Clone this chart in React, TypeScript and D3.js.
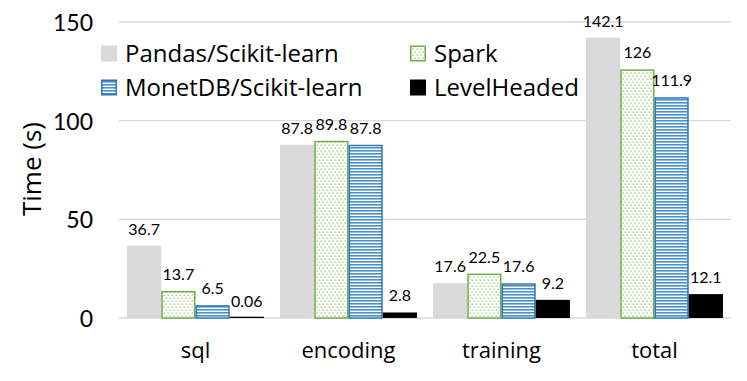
import React from "react";
import * as d3 from "d3";

const categories = ["sql", "encoding", "training", "total"];
const seriesNames = ["Pandas/Scikit-learn", "Spark", "MonetDB/Scikit-learn", "LevelHeaded"];
const pandasValues = [36.7, 87.8, 17.6, 142.1];
const sparkValues = [13.7, 89.8, 22.5, 126];
const monetValues = [6.5, 87.8, 17.6, 111.9];
const levelValues = [0.06, 2.8, 9.2, 12.1];
const valueLabels = [
  ["36.7", "87.8", "17.6", "142.1"],
  ["13.7", "89.8", "22.5", "126"],
  ["6.5", "87.8", "17.6", "111.9"],
  ["0.06", "2.8", "9.2", "12.1"],
];
const yTicks = [0, 50, 100, 150];

const W = 747;
const H = 381;
const FONT = "Lato, 'Open Sans', sans-serif";
const FONT2 = "'Open Sans', Lato, sans-serif";

export default function App() {
  const series = [pandasValues, sparkValues, monetValues, levelValues];
  const x0 = d3
    .scaleBand<string>()
    .domain(categories)
    .range([119, 731])
    .paddingInner(0.105)
    .paddingOuter(0.0525);
  const x1 = d3
    .scaleBand<string>()
    .domain(seriesNames)
    .range([0, x0.bandwidth()])
    .padding(0);
  const y = d3.scaleLinear().domain([0, 150]).range([318, 22]);

  const fills = ["#D9D9D9", "url(#dots)", "url(#stripes)", "#000000"];
  const strokes = ["none", "#70AD47", "#2E75B6", "none"];

  const legendPos = [
    { x: 101, y: 61.5 },
    { x: 410, y: 61.5 },
    { x: 101, y: 95.5 },
    { x: 410, y: 95.5 },
  ];

  return (
    <svg
      width={W}
      height={H}
      style={{ position: "absolute", left: 0, top: 0, background: "#fff" }}
      fontFamily={FONT}
    >
      <defs>
        <pattern id="dots" width="4" height="6" patternUnits="userSpaceOnUse">
          <rect width="4" height="6" fill="#fff" />
          <rect x="0.5" y="0.5" width="1.3" height="1.3" fill="#8CC665" />
          <rect x="2.5" y="3.5" width="1.3" height="1.3" fill="#8CC665" />
        </pattern>
        <pattern id="stripes" width="4" height="3" patternUnits="userSpaceOnUse">
          <rect width="4" height="3" fill="#fff" />
          <rect y="0" width="4" height="1.6" fill="#4A8FD0" />
        </pattern>
      </defs>

      {/* gridlines */}
      {yTicks.map((t) => (
        <line
          key={t}
          x1={119}
          x2={731}
          y1={y(t)}
          y2={y(t)}
          stroke="#D9D9D9"
          strokeWidth={1.3}
        />
      ))}
      {yTicks.map((t) => (
        <text
          key={"t" + t}
          x={93}
          y={y(t) + 9}
          textAnchor="end"
          fontSize={23}
          fill="#000"
        >
          {t}
        </text>
      ))}
      <text
        transform={`translate(41,169) rotate(-90)`}
        textAnchor="middle"
        fontSize={26}
        fontFamily={FONT2}
        fill="#000"
      >
        Time (s)
      </text>

      {/* bars */}
      {categories.map((c, ci) => (
        <g key={c} transform={`translate(${x0(c)},0)`}>
          {seriesNames.map((s, si) => {
            const v = series[si][ci];
            const bx = x1(s)!;
            const bw = x1.bandwidth();
            const hasStroke = strokes[si] !== "none";
            const yTop = y(v);
            const h = Math.max(y(0) - yTop, 1.3);
            return (
              <g key={s}>
                <rect
                  x={bx + (hasStroke ? 0.75 : 0)}
                  y={y(0) - h + (hasStroke ? 0.75 : 0)}
                  width={bw - (hasStroke ? 1.5 : 0)}
                  height={h - (hasStroke ? 0.75 : 0)}
                  fill={fills[si]}
                  stroke={strokes[si]}
                  strokeWidth={hasStroke ? 1.5 : 0}
                />
                <text
                  x={bx + bw / 2}
                  y={yTop - 11}
                  textAnchor="middle"
                  fontSize={16}
                  fill="#000"
                >
                  {valueLabels[si][ci]}
                </text>
              </g>
            );
          })}
        </g>
      ))}

      {/* category labels */}
      {categories.map((c) => (
        <text
          key={"c" + c}
          x={x0(c)! + x0.bandwidth() / 2}
          y={358}
          textAnchor="middle"
          fontSize={22}
          fontFamily={FONT2}
          fill="#000"
        >
          {c}
        </text>
      ))}

      {/* legend */}
      {seriesNames.map((s, si) => {
        const p = legendPos[si];
        const hasStroke = strokes[si] !== "none";
        return (
          <g key={"l" + s}>
            <rect
              x={p.x + (hasStroke ? 0.75 : 0)}
              y={p.y - 16 + (hasStroke ? 0.75 : 0)}
              width={16 - (hasStroke ? 1.5 : 0)}
              height={16 - (hasStroke ? 1.5 : 0)}
              fill={fills[si]}
              stroke={strokes[si]}
              strokeWidth={hasStroke ? 1.5 : 0}
            />
            <text x={p.x + 24} y={p.y} fontSize={24} fontFamily={FONT2} fill="#000">
              {s}
            </text>
          </g>
        );
      })}
    </svg>
  );
}
